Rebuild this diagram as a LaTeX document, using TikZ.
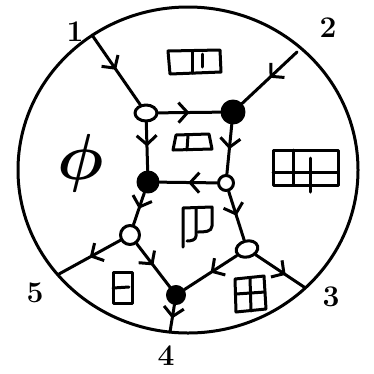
\documentclass[tikz,border=0pt]{standalone}
\usepackage{fontspec}
\usetikzlibrary{arrows.meta,decorations.markings,shapes.geometric}
\begin{document}
\begin{tikzpicture}[x=1pt,y=-1pt,line width=3pt,line cap=round,line join=round,
    wvert/.style={draw,circle,fill=white,inner sep=0pt,minimum size=18pt},
    wovl/.style={draw,ellipse,fill=white,inner sep=0pt,minimum width=22pt,minimum height=16pt},
    bvert/.style={draw,circle,fill=black,inner sep=0pt,minimum size=20pt},
    flow/.style={postaction={decorate,decoration={markings,
        mark=at position #1 with {\arrow{Straight Barb[length=9pt,width=20pt]}}}}},
    flow/.default=0.5,
    lab/.style={font=\fontsize{30}{30}\selectfont\bfseries}]
        \useasboundingbox (0,0) rectangle (374,373);
        \draw (188,170) ellipse [x radius=170, y radius=163];

        % boundary points
        \coordinate (p1) at (92,35);
        \coordinate (p2) at (297,52);
        \coordinate (p3) at (304,287);
        \coordinate (p4) at (170,332);
        \coordinate (p5) at (59,274);
        \node[lab] (l1) at (75,32) {1};
        \node[lab] (l2) at (328,28) {2};
        \node[lab] (l3) at (331,297) {3};
        \node[lab] (l4) at (166,356) {4};
        \node[lab] (l5) at (35,293) {5};

        % vertices
        \node[wovl] (a) at (146,113) {};
        \node[bvert,minimum size=22pt] (b) at (233,112) {};
        \node[bvert] (c) at (148,182) {};
        \node[wvert,minimum size=15pt] (d) at (226,183) {};
        \node[wvert,minimum size=19pt] (e) at (130,235) {};
        \node[wovl,rotate=15] (f) at (247,249) {};
        \node[bvert,minimum size=17pt] (g) at (176,295) {};

        % edges
        \draw[flow] (p1) -- (a);
        \draw[flow] (p2) -- (b);
        \draw[flow] (a) -- (b);
        \draw[flow] (a) -- (c);
        \draw[flow] (b) -- (d);
        \draw[flow] (d) -- (c);
        \draw[flow] (c) -- (e);
        \draw[flow] (d) -- (f);
        \draw[flow] (e) -- (g);
        \draw[flow] (f) -- (g);
        \draw[flow] (g) -- (p4);
        \draw[flow=0.62] (f) -- (p3);
        \draw[flow] (e) -- (p5);

        % face labels
        \node (empty) at (81,163) {\scalebox{6.5}{\boldmath$\phi$}};
        \draw (168,51) -- (220,50) -- (221,72) -- (170,74) -- cycle;
        \draw (192,51) -- (192,73);
        \draw (202,54) -- (202,67);
        \draw (173,150) -- (176,135) -- (209,134) -- (212,149) -- cycle;
        \draw (188,135) -- (187,150);
        \draw (183,247) -- (183,208) -- (212,207) -- (212,226) to[out=-90,in=0] (198,232);
        \draw (196,208) -- (196,236) to[out=-90,in=0] (187,241);
        \draw (273,150) rectangle (338,185);
        \draw (273,172) -- (338,172);
        \draw (293,150) -- (293,185);
        \draw (310,158) -- (310,192);
        \draw (113,272) rectangle (132,303);
        \draw (113,288) -- (129,287);
        \draw (235,279) -- (264,276) -- (266,309) -- (236,312) -- cycle;
        \draw (236,294) -- (265,292);
        \draw (250,278) -- (251,311);
\end{tikzpicture}
\end{document}
